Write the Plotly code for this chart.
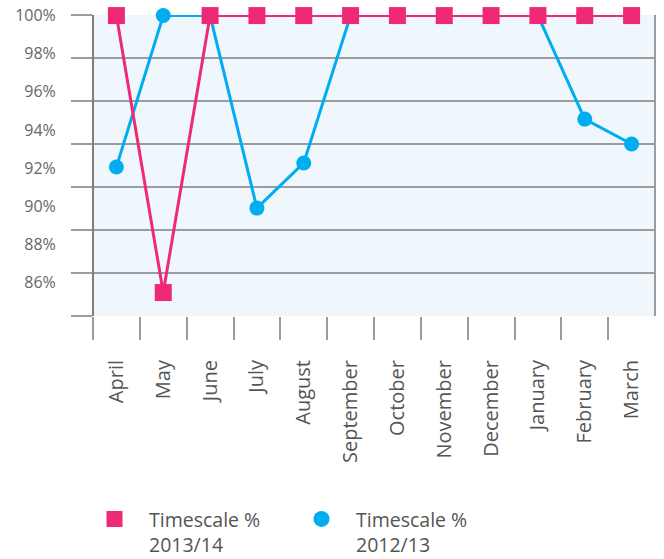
import plotly.graph_objects as go

months = ["April", "May", "June", "July", "August", "September", "October",
          "November", "December", "January", "February", "March"]
ts_2013_14 = [100, 85.47, 100, 100, 100, 100, 100, 100, 100, 100, 100, 100]
ts_2012_13 = [92.06, 100, 100, 89.9, 92.27, 100, 100, 100, 100, 100, 94.57, 93.26]
y_ticks = [86, 88, 90, 92, 94, 96, 98, 100]
y_ticktext = [f"{v}%" for v in y_ticks]

RED = "#EE2A77"
BLUE = "#00AEEF"
GRID = "#9A9C9E"
FONT = "Open Sans"

fig = go.Figure()

fig.add_trace(go.Scatter(x=months, y=ts_2012_13, mode="lines+markers",
                         line=dict(color=BLUE, width=3),
                         marker=dict(symbol="circle", size=15, color=BLUE),
                         cliponaxis=False, showlegend=False))
fig.add_trace(go.Scatter(x=months, y=ts_2013_14, mode="lines+markers",
                         line=dict(color=RED, width=3),
                         marker=dict(symbol="square", size=17, color=RED),
                         cliponaxis=False, showlegend=False))

# legend entries (markers only)
fig.add_trace(go.Scatter(x=[None], y=[None], mode="markers",
                         marker=dict(symbol="square", size=16, color=RED),
                         name="Timescale %<br>2013/14"))
fig.add_trace(go.Scatter(x=[None], y=[None], mode="markers",
                         marker=dict(symbol="circle", size=16, color=BLUE),
                         name="Timescale %<br>2012/13"))

# helper axes for evenly spaced grid lines and boundary ticks
fig.add_trace(go.Scatter(x=[None], y=[None], xaxis="x2", yaxis="y2",
                         showlegend=False, hoverinfo="skip"))

fig.update_layout(
    width=664, height=559,
    margin=dict(l=93, r=9, t=15, b=243, autoexpand=False),
    paper_bgcolor="white",
    plot_bgcolor="#EFF7FD",
    font=dict(family=FONT, color="#555555"),
    xaxis=dict(type="category", categoryorder="array", categoryarray=months,
               tickangle=-90, tickfont=dict(size=20, color="#555555"),
               ticks="outside", ticklen=35, tickcolor="rgba(0,0,0,0)",
               showgrid=False, zeroline=False, showline=False,
               range=[-0.5, 11.5]),
    yaxis=dict(range=[84.24, 100.03], tickvals=y_ticks, ticktext=y_ticktext,
               tickfont=dict(size=16, color="#666666"),
               ticks="outside", ticklen=33, tickcolor="rgba(0,0,0,0)",
               showgrid=False, zeroline=False, showline=False),
    xaxis2=dict(overlaying="x", range=[-0.5, 11.5],
                tickvals=[i - 0.5 for i in range(12)],
                showticklabels=False, ticks="outside", ticklen=23,
                tickwidth=2, tickcolor=GRID, showgrid=False, zeroline=False,
                showline=False, side="bottom"),
    yaxis2=dict(overlaying="y", range=[0, 7], tickvals=list(range(8)),
                showticklabels=False, ticks="outside", ticklen=21,
                tickwidth=2, tickcolor=GRID, showgrid=True, gridcolor=GRID,
                gridwidth=2, zeroline=False, showline=False, side="left"),
    shapes=[
        dict(type="line", xref="paper", yref="paper", x0=0, x1=0, y0=0, y1=1,
             line=dict(color="#7F7F7F", width=2), layer="above"),
        dict(type="line", xref="paper", yref="paper", x0=1, x1=1, y0=0, y1=1,
             line=dict(color=GRID, width=2), layer="below"),
    ],
    legend=dict(orientation="h", xref="container", x=0.1205, xanchor="left",
                yref="container", y=0.106, yanchor="top",
                font=dict(size=19.5, color="#555555"), valign="top",
                entrywidth=133, itemwidth=59, traceorder="normal"),
)

fig.write_html("out.html")
